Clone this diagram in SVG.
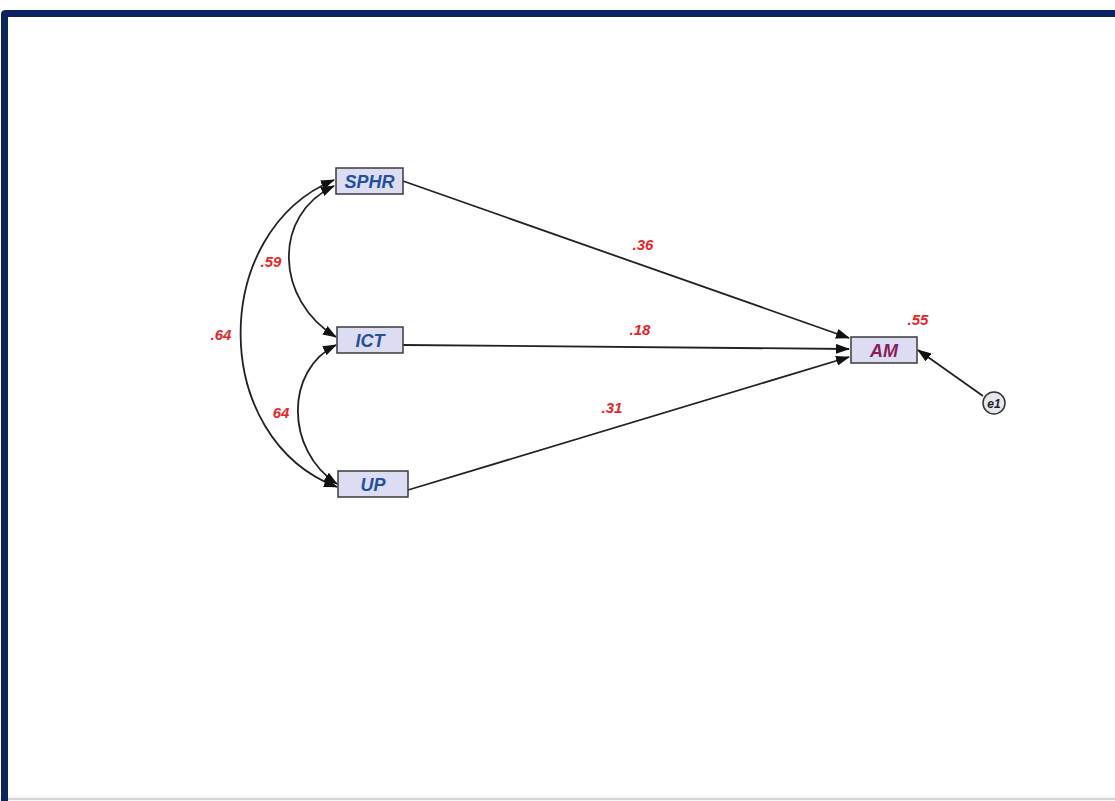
<svg xmlns="http://www.w3.org/2000/svg" width="1115" height="801" viewBox="0 0 1115 801">
<style>
.box{fill:#dcdcf2;stroke:#3a3a3a;stroke-width:1.5}
.nt{font-family:"Liberation Sans",Arial,sans-serif;font-weight:bold;font-style:italic;font-size:18px;fill:#24509a;text-anchor:middle}
.am{fill:#8a1c5c}
.lbl{font-family:"Liberation Sans",Arial,sans-serif;font-weight:bold;font-style:italic;font-size:15px;fill:#e8262a;text-anchor:middle}
.ln{fill:none;stroke:#222;stroke-width:1.8}
</style>
<defs>
<marker id="ah" viewBox="0 0 14 10" refX="13" refY="5" markerWidth="14" markerHeight="10" markerUnits="userSpaceOnUse" orient="auto-start-reverse">
<path d="M0,0 L14,5 L0,10 z" fill="#111"/>
</marker>
</defs>
<rect x="0" y="0" width="1115" height="801" fill="#fff"/>
<rect x="0" y="796" width="1115" height="5" fill="#f6f6f6"/>
<line x1="6" y1="799" x2="1115" y2="799" stroke="#c8c8c8" stroke-width="1.5"/>
<path d="M4.5,801 V14 Q4.5,13.5 6,13.5 H1115" fill="none" stroke="#0b2461" stroke-width="7"/>
<g id="connectors">
<path class="ln" marker-start="url(#ah)" marker-end="url(#ah)" d="M334,180 C209,232 209,438 337,487"/>
<path class="ln" marker-start="url(#ah)" marker-end="url(#ah)" d="M334,186 C272,215 275,300 336,337"/>
<path class="ln" marker-start="url(#ah)" marker-end="url(#ah)" d="M336,345 C285,370 285,450 337,484"/>
<line class="ln" marker-end="url(#ah)" x1="403" y1="181" x2="849" y2="338"/>
<line class="ln" marker-end="url(#ah)" x1="403" y1="345" x2="849" y2="349"/>
<line class="ln" marker-end="url(#ah)" x1="408" y1="490" x2="849" y2="357"/>
<line class="ln" marker-end="url(#ah)" x1="983" y1="396" x2="918" y2="350"/>
</g>
<g id="labels">
<text class="lbl" x="643" y="250">.36</text>
<text class="lbl" x="640" y="335">.18</text>
<text class="lbl" x="612" y="413">.31</text>
<text class="lbl" x="918" y="325">.55</text>
<text class="lbl" x="271" y="267">.59</text>
<text class="lbl" x="221" y="340">.64</text>
<text class="lbl" x="281" y="418">64</text>
</g>
<g id="SPHR"><rect class="box" x="336" y="168" width="67" height="26"/><text class="nt" x="369.5" y="188">SPHR</text></g>
<g id="ICT"><rect class="box" x="337" y="327" width="66" height="26"/><text class="nt" x="370" y="347">ICT</text></g>
<g id="UP"><rect class="box" x="338" y="471" width="70" height="26"/><text class="nt" x="373" y="491">UP</text></g>
<g id="AM"><rect class="box" x="851" y="337" width="66" height="26"/><text class="nt am" x="884" y="357">AM</text></g>
<g id="e1"><circle cx="994" cy="403" r="11" fill="#e6e6ee" stroke="#333" stroke-width="1.5"/><text x="994" y="408" font-family="Liberation Sans,Arial,sans-serif" font-style="italic" font-weight="bold" font-size="12" fill="#222" text-anchor="middle">e1</text></g>
</svg>
